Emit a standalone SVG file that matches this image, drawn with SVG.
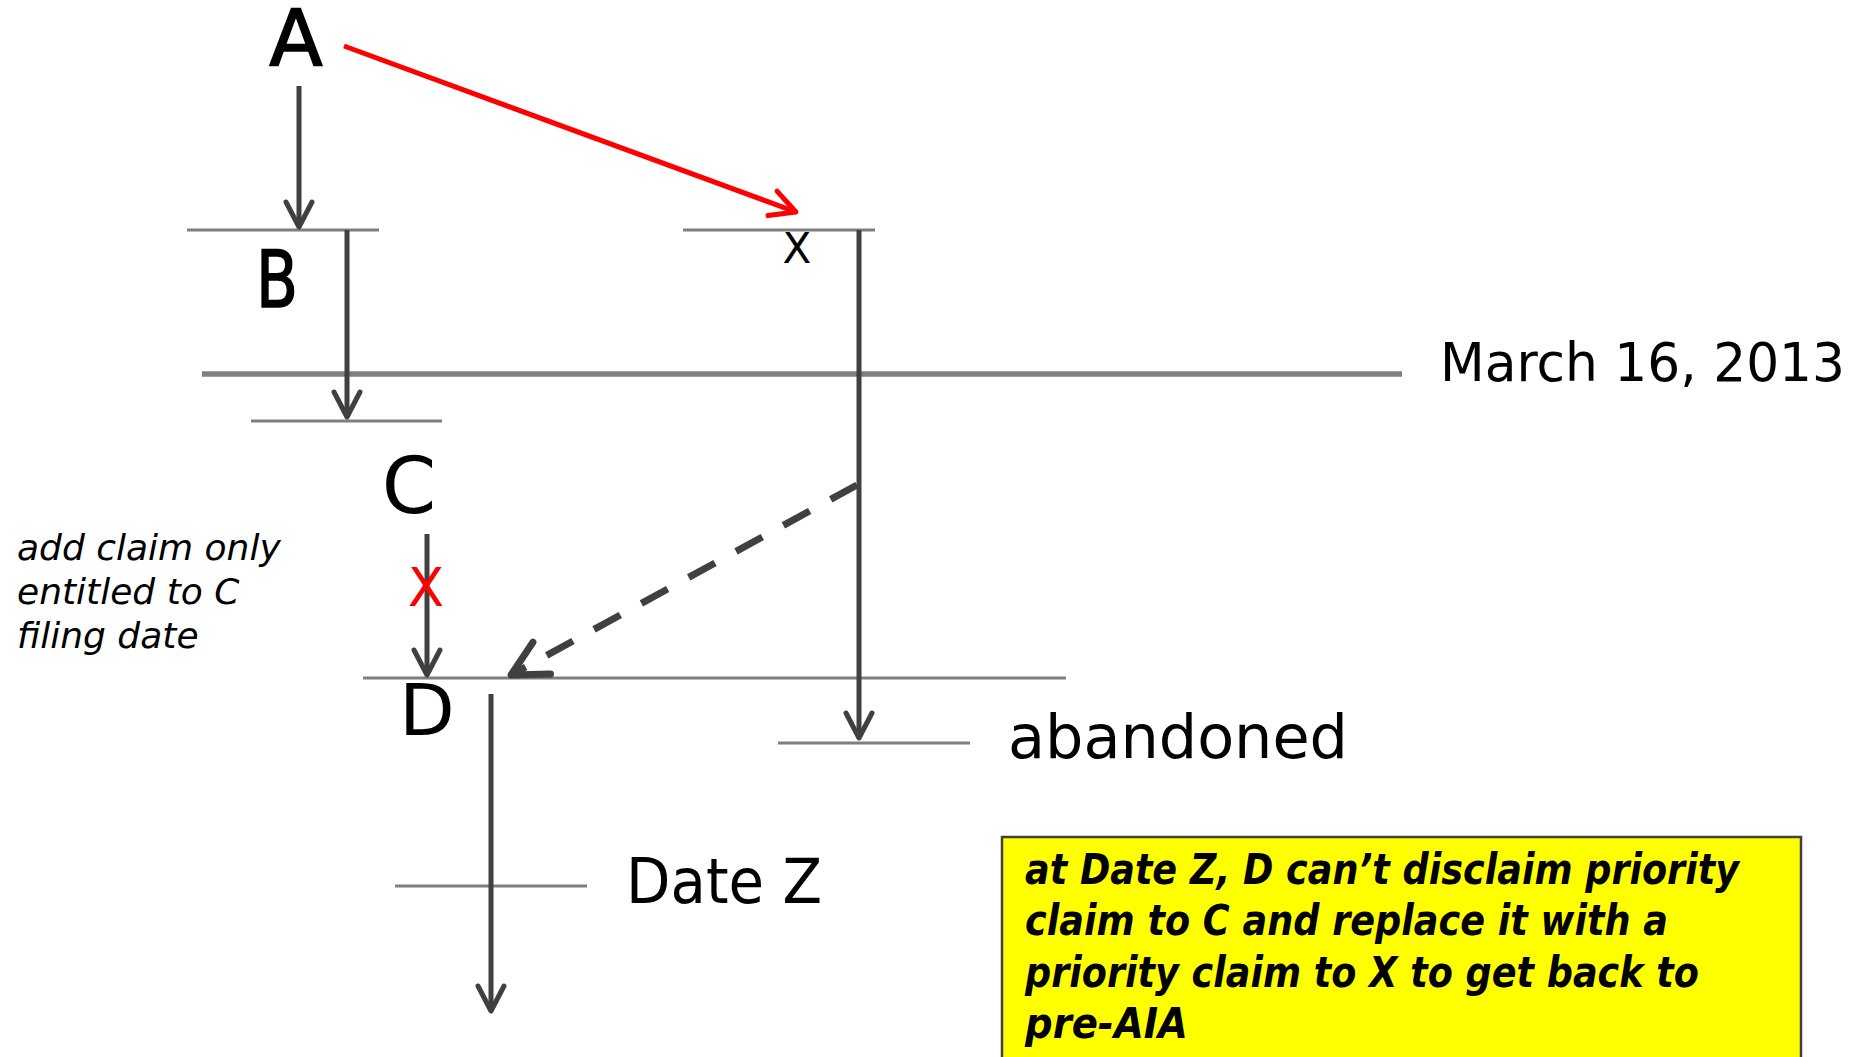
<svg xmlns="http://www.w3.org/2000/svg" width="1866" height="1057" viewBox="0 0 1866 1057">
<style>
.lbl{font-family:"DejaVu Sans","Liberation Sans",sans-serif;fill:#000}
.big{font-size:78px;text-anchor:middle}
.heavy{stroke:#000;stroke-width:1.6}
.tick{stroke:#7f7f7f;stroke-width:3;fill:none}
.thick{stroke-width:5.5}
.arr{stroke:#404040;stroke-width:5;fill:none}
.note{font-family:"DejaVu Sans","Liberation Sans",sans-serif;font-style:italic;font-size:36px;fill:#000}
.box{font-family:"DejaVu Sans","Liberation Sans",sans-serif;font-style:italic;font-weight:bold;font-size:43px;fill:#000}
</style>
<defs>
<marker id="ah" viewBox="-7 -4 8 8" markerWidth="8" markerHeight="8" refX="0" refY="0" orient="auto" markerUnits="strokeWidth">
<path d="M-5,-2.6 L0,0 L-5,2.6" fill="none" stroke="#404040" stroke-width="1" stroke-linecap="round" stroke-linejoin="round"/>
</marker>
<marker id="ahr" viewBox="-7 -4 8 8" markerWidth="8" markerHeight="8" refX="0" refY="0" orient="auto" markerUnits="strokeWidth">
<path d="M-5,-2.6 L0,0 L-5,2.6" fill="none" stroke="#ff0000" stroke-width="1" stroke-linecap="round" stroke-linejoin="round"/>
</marker>
</defs>
<rect width="1866" height="1057" fill="#fff"/>

<g id="timelines">
<line class="tick" x1="187" y1="230" x2="379" y2="230"/>
<line class="tick" x1="683" y1="230" x2="875" y2="230"/>
<line class="tick thick" x1="202" y1="374" x2="1402" y2="374"/>
<line class="tick" x1="251" y1="421" x2="442" y2="421"/>
<line class="tick" x1="363" y1="678" x2="1066" y2="678"/>
<line class="tick" x1="778" y1="743" x2="970" y2="743"/>
<line class="tick" x1="395" y1="886" x2="587" y2="886"/>
</g>

<g id="connectors">
<line class="arr" x1="299" y1="86" x2="299" y2="227" marker-end="url(#ah)"/>
<line class="arr" x1="347" y1="230" x2="347" y2="417" marker-end="url(#ah)"/>
<line class="arr" x1="859" y1="230" x2="859" y2="738" marker-end="url(#ah)"/>
<line class="arr" x1="427" y1="534" x2="427" y2="675" marker-end="url(#ah)"/>
<line class="arr" x1="491" y1="694" x2="491" y2="1011" marker-end="url(#ah)"/>
<line x1="344" y1="46" x2="796" y2="212" stroke="#ff0000" stroke-width="5" marker-end="url(#ahr)"/>
<line x1="857" y1="485" x2="511" y2="675" stroke="#404040" stroke-width="7" stroke-dasharray="30 24" marker-end="url(#ah)"/>
</g>

<g id="node-A"><text class="lbl big heavy" x="296" y="66">A</text></g>
<g id="node-B"><text class="lbl big heavy" x="277" y="307" textLength="42" lengthAdjust="spacingAndGlyphs">B</text></g>
<g id="node-C"><text class="lbl big" x="409" y="513">C</text></g>
<g id="node-D"><text class="lbl big" x="427" y="735" style="font-size:72px">D</text></g>
<g id="node-X"><text class="lbl" x="797" y="263" font-size="42" text-anchor="middle">X</text></g>
<g id="red-x"><text class="lbl" x="426" y="606" font-size="53" text-anchor="middle" style="fill:#ff0000">X</text></g>

<g id="label-march"><text class="lbl" x="1440" y="381" font-size="53" textLength="405" lengthAdjust="spacingAndGlyphs">March 16, 2013</text></g>
<g id="label-abandoned"><text class="lbl" x="1008" y="758" font-size="61" textLength="340" lengthAdjust="spacingAndGlyphs">abandoned</text></g>
<g id="label-datez"><text class="lbl" x="626" y="903" font-size="62" textLength="196" lengthAdjust="spacingAndGlyphs">Date Z</text></g>

<g id="note-left">
<text class="note" x="17" y="560">add claim only</text>
<text class="note" x="17" y="604">entitled to C</text>
<text class="note" x="17" y="648">filing date</text>
</g>

<g id="note-box">
<rect x="1002" y="837" width="799" height="240" fill="#ffff00" stroke="#404040" stroke-width="2.5"/>
<text class="box" x="1025" y="884" textLength="714" lengthAdjust="spacingAndGlyphs">at Date Z, D can’t disclaim priority</text>
<text class="box" x="1025" y="935" textLength="643" lengthAdjust="spacingAndGlyphs">claim to C and replace it with a</text>
<text class="box" x="1025" y="987" textLength="674" lengthAdjust="spacingAndGlyphs">priority claim to X to get back to</text>
<text class="box" x="1025" y="1038" textLength="163" lengthAdjust="spacingAndGlyphs">pre-AIA</text>
</g>
</svg>
